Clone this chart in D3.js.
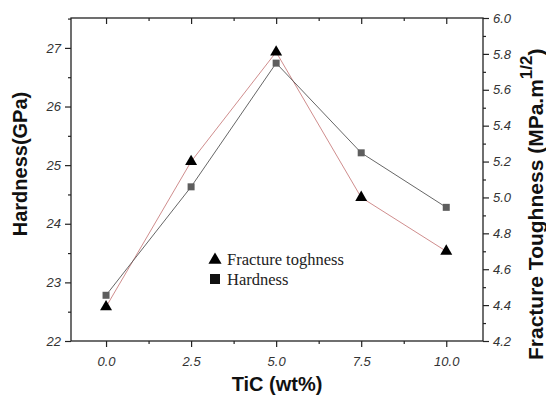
<!DOCTYPE html>
<html>
<head>
<meta charset="utf-8">
<script src="https://cdn.jsdelivr.net/npm/d3@7"></script>
<style>
  body { margin: 0; background: #fff; }
  svg { display: block; }
</style>
</head>
<body>
<div id="chart"></div>
<script>
const ticWt = [0, 2.5, 5.0, 7.5, 10.0];
const hardness = [22.78, 24.63, 26.74, 25.21, 24.28];
const toughness = [4.39, 5.20, 5.81, 5.00, 4.70];
const xTicks = [0, 2.5, 5.0, 7.5, 10.0];
const hTicks = [22, 23, 24, 25, 26, 27];
const tTicks = [4.2, 4.4, 4.6, 4.8, 5.0, 5.2, 5.4, 5.6, 5.8, 6.0];

const W = 546, H = 398;
const m = { left: 71, right: 483, top: 18, bottom: 341 };

const svg = d3.select('#chart').append('svg')
  .attr('width', W).attr('height', H)
  .style('background-color', 'white');

const x = d3.scaleLinear().domain([-1.03, 11.08]).range([m.left, m.right]);
const yL = d3.scaleLinear().domain([22, 27.51]).range([m.bottom, m.top]);
const yR = d3.scaleLinear().domain([4.2, 6.0]).range([m.bottom, m.top]);

const tickFont = 'Liberation Sans, Arial, sans-serif';

// frame
svg.append('rect')
  .attr('x', m.left).attr('y', m.top)
  .attr('width', m.right - m.left).attr('height', m.bottom - m.top)
  .attr('fill', 'none').attr('stroke', '#222').attr('stroke-width', 1.3);

function styleAxis(g) {
  g.select('.domain').remove();
  g.selectAll('line').attr('stroke', '#222').attr('stroke-width', 1.2);
  g.selectAll('text')
    .attr('font-family', tickFont).attr('font-size', 13)
    .attr('font-style', 'italic').attr('fill', '#333');
}

// bottom axis
svg.append('g').attr('transform', `translate(0,${m.bottom})`)
  .call(d3.axisBottom(x).tickValues(xTicks).tickFormat(d3.format('.1f')).tickSize(6).tickPadding(10))
  .call(styleAxis);
svg.append('g').attr('transform', `translate(0,${m.bottom})`)
  .call(d3.axisBottom(x).tickValues(d3.range(-1.25, 11.1, 2.5).filter(v => v > -1)).tickFormat('').tickSize(3))
  .call(styleAxis);

// top axis, ticks inward
svg.append('g').attr('transform', `translate(0,${m.top})`)
  .call(d3.axisBottom(x).tickValues(xTicks).tickFormat('').tickSize(6))
  .call(styleAxis);
svg.append('g').attr('transform', `translate(0,${m.top})`)
  .call(d3.axisBottom(x).tickValues(d3.range(1.25, 11.1, 2.5)).tickFormat('').tickSize(3))
  .call(styleAxis);

// left axis
svg.append('g').attr('transform', `translate(${m.left},0)`)
  .call(d3.axisLeft(yL).tickValues(hTicks).tickFormat(d3.format('d')).tickSize(6).tickPadding(4))
  .call(styleAxis);
svg.append('g').attr('transform', `translate(${m.left},0)`)
  .call(d3.axisLeft(yL).tickValues(d3.range(22.5, 27.6, 1)).tickFormat('').tickSize(3))
  .call(styleAxis);

// right axis
svg.append('g').attr('transform', `translate(${m.right},0)`)
  .call(d3.axisRight(yR).tickValues(tTicks).tickFormat(d3.format('.1f')).tickSize(6).tickPadding(4))
  .call(styleAxis);
svg.append('g').attr('transform', `translate(${m.right},0)`)
  .call(d3.axisRight(yR).tickValues(d3.range(4.3, 6.0, 0.2)).tickFormat('').tickSize(3))
  .call(styleAxis);

// lines
const hData = ticWt.map((t, i) => ({ x: t, y: hardness[i] }));
const tData = ticWt.map((t, i) => ({ x: t, y: toughness[i] }));

svg.append('path').datum(tData)
  .attr('fill', 'none').attr('stroke', '#c98080').attr('stroke-width', 0.9)
  .attr('d', d3.line().x(d => x(d.x)).y(d => yR(d.y)));
svg.append('path').datum(hData)
  .attr('fill', 'none').attr('stroke', '#555').attr('stroke-width', 0.9)
  .attr('d', d3.line().x(d => x(d.x)).y(d => yL(d.y)));

// markers
svg.selectAll('.sq').data(hData).enter().append('rect')
  .attr('x', d => x(d.x) - 3.5).attr('y', d => yL(d.y) - 3.5)
  .attr('width', 7).attr('height', 7).attr('fill', '#5e5e5e');

const tri = d3.symbol().type(d3.symbolTriangle).size(62);
svg.selectAll('.tri').data(tData).enter().append('path')
  .attr('d', tri)
  .attr('transform', d => `translate(${x(d.x)},${yR(d.y)})`)
  .attr('fill', '#000');

// legend
const legFont = 'Liberation Serif, Times New Roman, serif';
const lg = svg.append('g').attr('transform', 'translate(215,0)');
lg.append('path').attr('d', d3.symbol().type(d3.symbolTriangle).size(75))
  .attr('transform', 'translate(0,260)').attr('fill', '#000');
lg.append('text').attr('x', 12).attr('y', 265)
  .attr('font-family', legFont).attr('font-size', 16.5)
  .attr('fill', '#222').text('Fracture toghness');
lg.append('rect').attr('x', -5).attr('y', 274).attr('width', 10).attr('height', 10).attr('fill', '#111');
lg.append('text').attr('x', 12).attr('y', 285)
  .attr('font-family', legFont).attr('font-size', 16.5)
  .attr('fill', '#222').text('Hardness');

// axis titles
svg.append('text')
  .attr('x', 277).attr('y', 391)
  .attr('text-anchor', 'middle')
  .attr('font-family', tickFont).attr('font-weight', 'bold').attr('font-size', 20)
  .attr('fill', '#111').text('TiC (wt%)');

svg.append('text')
  .attr('transform', `translate(27,164) rotate(-90)`)
  .attr('text-anchor', 'middle')
  .attr('font-family', tickFont).attr('font-weight', 'bold').attr('font-size', 20)
  .attr('fill', '#111').text('Hardness(GPa)');

const rt = svg.append('text')
  .attr('transform', `translate(543,360) rotate(-90)`)
  .attr('text-anchor', 'start')
  .attr('font-family', tickFont).attr('font-weight', 'bold').attr('font-size', 21)
  .attr('fill', '#111');
rt.append('tspan').text('Fracture Toughness (MPa.m');
rt.append('tspan').attr('dy', -11).attr('font-size', 17).text('1/2');
rt.append('tspan').attr('dy', 11).text(')');
</script>
</body>
</html>
